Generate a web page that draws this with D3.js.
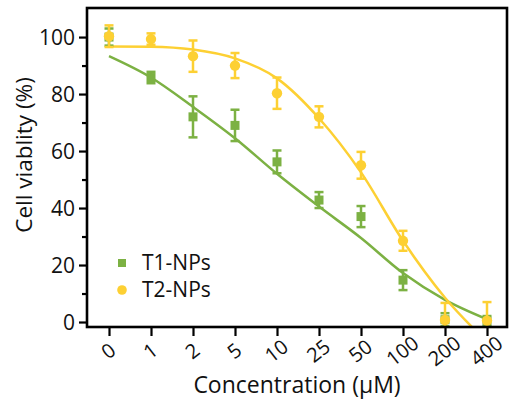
<!DOCTYPE html>
<html>
<head>
<meta charset="utf-8">
<script src="https://cdn.jsdelivr.net/npm/d3@7"></script>
<style>
  html, body { margin: 0; padding: 0; background: #fff; }
  svg { display: block; font-family: "Open Sans", sans-serif; }
</style>
</head>
<body>
<svg id="chart" width="510" height="403"></svg>
<script>
// ---- data ----
const categories = ["0", "1", "2", "5", "10", "25", "50", "100", "200", "400"];
const t1Mean = [100, 85.8, 72, 69, 56.2, 42.8, 37, 14.7, 0.8, 0.3];
const t1Err  = [3, 2, 7.2, 5.5, 4, 2.8, 3.7, 3.5, 2.3, 1.8];
const t2Mean = [100.3, 99.3, 93.3, 90, 80.3, 72, 55, 28.5, 0.7, 0.5];
const t2Err  = [3.8, 2, 5.5, 4.4, 5.5, 3.7, 4.7, 3.5, 6, 6.5];
// fitted curves at each category
const t1Fit = [93.3, 85.8, 75.5, 64.5, 52, 40.5, 29.5, 17.2, 7.8, 1.0];
const t2Fit = [96.7, 96.6, 95.6, 92.5, 85.5, 71.5, 52.5, 28.5, 8.5, -7];
const yMajor = [0, 20, 40, 60, 80, 100];
const yMinor = [10, 30, 50, 70, 90];
const seriesNames = ["T1-NPs", "T2-NPs"];

(function () {
// ---- layout ----
const pLeft = 87, pRight = 507, pTop = 8, pBottom = 327;
const green = "#7cb143", yellow = "#fdd033";

const svg = d3.select("#chart");
const x = d3.scaleLinear().domain([0, categories.length - 1]).range([109, 487]);
const y = d3.scaleLinear().domain([-1.75, 110.2]).range([pBottom, pTop]);

svg.append("defs").append("clipPath").attr("id", "plotClip")
  .append("rect").attr("x", pLeft).attr("y", pTop)
  .attr("width", pRight - pLeft).attr("height", pBottom - pTop);

const plot = svg.append("g").attr("clip-path", "url(#plotClip)");

// curves
const line = d3.line().x((d, i) => x(i)).y(d => y(d)).curve(d3.curveMonotoneX);
plot.append("path").datum(t1Fit).attr("d", line)
  .attr("fill", "none").attr("stroke", green).attr("stroke-width", 2.5);
plot.append("path").datum(t2Fit).attr("d", line)
  .attr("fill", "none").attr("stroke", yellow).attr("stroke-width", 2.5);

function drawSeries(means, errs, color, shape) {
  const g = plot.append("g");
  const pts = means.map((m, i) => ({ i, m, e: errs[i] }));
  const eb = g.selectAll("g.eb").data(pts).enter().append("g")
    .attr("stroke", color).attr("stroke-width", 2.5);
  eb.append("line")
    .attr("x1", d => x(d.i)).attr("x2", d => x(d.i))
    .attr("y1", d => y(d.m - d.e)).attr("y2", d => y(d.m + d.e));
  eb.append("line")
    .attr("x1", d => x(d.i) - 4.5).attr("x2", d => x(d.i) + 4.5)
    .attr("y1", d => y(d.m + d.e)).attr("y2", d => y(d.m + d.e));
  eb.append("line")
    .attr("x1", d => x(d.i) - 4.5).attr("x2", d => x(d.i) + 4.5)
    .attr("y1", d => y(d.m - d.e)).attr("y2", d => y(d.m - d.e));
  if (shape === "square") {
    g.selectAll("rect.pt").data(pts).enter().append("rect")
      .attr("x", d => x(d.i) - 4.5).attr("y", d => y(d.m) - 4.5)
      .attr("width", 9).attr("height", 9).attr("fill", color);
  } else {
    g.selectAll("circle.pt").data(pts).enter().append("circle")
      .attr("cx", d => x(d.i)).attr("cy", d => y(d.m))
      .attr("r", 5.2).attr("fill", color);
  }
}
drawSeries(t1Mean, t1Err, green, "square");
drawSeries(t2Mean, t2Err, yellow, "circle");

// axes
const yAxis = svg.append("g").attr("transform", `translate(${pLeft},0)`)
  .call(d3.axisLeft(y).tickValues(yMajor).tickSize(8).tickPadding(4).tickSizeOuter(0));
yAxis.select(".domain").remove();
yAxis.selectAll("line").attr("stroke", "#000").attr("stroke-width", 2.2);
yAxis.selectAll("text").attr("font-size", 21).attr("fill", "#111")
  .attr("font-family", "'Open Sans', sans-serif").attr("dy", "0.35em");

const yMinorAxis = svg.append("g").attr("transform", `translate(${pLeft},0)`)
  .call(d3.axisLeft(y).tickValues(yMinor).tickSize(5).tickFormat(""));
yMinorAxis.select(".domain").remove();
yMinorAxis.selectAll("line").attr("stroke", "#000").attr("stroke-width", 2.2);

const xAxis = svg.append("g").attr("transform", `translate(0,${pBottom})`)
  .call(d3.axisBottom(x).tickValues(d3.range(categories.length))
    .tickFormat(i => categories[i]).tickSize(9).tickSizeOuter(0));
xAxis.select(".domain").remove();
xAxis.selectAll("line").attr("stroke", "#000").attr("stroke-width", 2.2);
xAxis.selectAll("text")
  .attr("font-size", 20).attr("fill", "#111")
  .attr("font-family", "'Open Sans', sans-serif")
  .attr("text-anchor", "middle")
  .attr("y", 0).attr("dy", "0.35em")
  .attr("transform", "translate(-1,24) rotate(-38)");

// frame
svg.append("rect").attr("x", pLeft).attr("y", pTop)
  .attr("width", pRight - pLeft).attr("height", pBottom - pTop)
  .attr("fill", "none").attr("stroke", "#000").attr("stroke-width", 2.6);

// titles
svg.append("text").attr("x", 297).attr("y", 393)
  .attr("text-anchor", "middle").attr("font-size", 23).attr("fill", "#111")
  .text("Concentration (\u03bcM)");
svg.append("text")
  .attr("transform", "translate(32,155) rotate(-90)")
  .attr("text-anchor", "middle").attr("font-size", 22.5).attr("fill", "#111")
  .text("Cell viablity (%)");

// legend
const legend = svg.append("g");
const legendColors = [green, yellow];
seriesNames.forEach((name, i) => {
  const ly = 263 + i * 27;
  if (i === 0) {
    legend.append("rect").attr("x", 122 - 4).attr("y", ly - 4)
      .attr("width", 8).attr("height", 8).attr("fill", legendColors[i]);
  } else {
    legend.append("circle").attr("cx", 122).attr("cy", ly).attr("r", 4.8)
      .attr("fill", legendColors[i]);
  }
  legend.append("text").attr("x", 142).attr("y", ly).attr("dy", "0.35em")
    .attr("font-size", 21).attr("fill", "#111").text(name);
});
})();
</script>
</body>
</html>
